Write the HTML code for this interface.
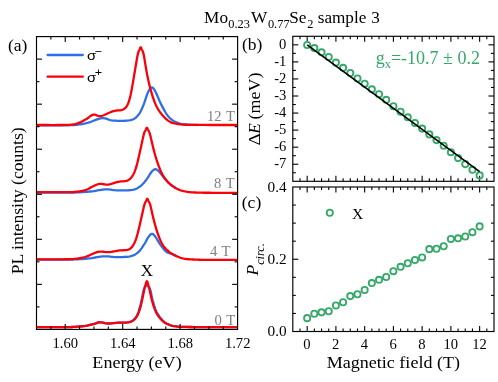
<!DOCTYPE html>
<html><head><meta charset="utf-8"><title>fig</title>
<style>
html,body{margin:0;padding:0;background:#fff;}
#fig{position:relative;width:498px;height:382px;overflow:hidden;background:#fff;font-family:"Liberation Serif",serif;}
</style></head><body>
<div id="fig">
<svg width="498" height="382" viewBox="0 0 498 382" style="position:absolute;left:0;top:0;will-change:transform;opacity:0.999">
<path d="M36.60,125.30 L38.99,125.30 L42.29,125.32 L46.24,125.33 L50.55,125.34 L54.96,125.35 L59.18,125.35 L62.96,125.33 L66.00,125.30 L68.34,125.25 L70.26,125.20 L71.84,125.15 L73.19,125.08 L74.38,124.99 L75.52,124.88 L76.70,124.75 L78.00,124.60 L79.35,124.43 L80.64,124.25 L81.87,124.06 L83.09,123.84 L84.33,123.59 L85.61,123.31 L86.95,122.98 L88.40,122.60 L89.97,122.11 L91.65,121.49 L93.41,120.79 L95.20,120.07 L97.00,119.38 L98.77,118.79 L100.48,118.34 L102.10,118.10 L103.58,118.10 L104.93,118.30 L106.21,118.66 L107.47,119.10 L108.76,119.57 L110.12,120.02 L111.62,120.38 L113.30,120.60 L115.25,120.71 L117.45,120.79 L119.81,120.83 L122.23,120.82 L124.63,120.75 L126.90,120.61 L128.96,120.40 L130.70,120.10 L132.13,119.72 L133.33,119.27 L134.35,118.75 L135.22,118.16 L136.01,117.50 L136.73,116.76 L137.45,115.97 L138.20,115.10 L138.95,114.16 L139.63,113.16 L140.26,112.09 L140.86,110.94 L141.44,109.73 L142.02,108.46 L142.60,107.11 L143.20,105.70 L143.82,104.13 L144.46,102.36 L145.09,100.47 L145.72,98.54 L146.35,96.65 L146.95,94.88 L147.54,93.30 L148.10,92.00 L148.63,90.94 L149.13,90.02 L149.61,89.24 L150.08,88.61 L150.53,88.12 L150.98,87.78 L151.44,87.57 L151.90,87.50 L152.36,87.59 L152.80,87.84 L153.24,88.23 L153.68,88.77 L154.12,89.43 L154.59,90.19 L155.08,91.06 L155.60,92.00 L156.15,93.08 L156.73,94.33 L157.33,95.71 L157.94,97.18 L158.58,98.71 L159.24,100.24 L159.91,101.75 L160.60,103.20 L161.32,104.64 L162.08,106.13 L162.86,107.64 L163.66,109.14 L164.47,110.60 L165.26,111.99 L166.05,113.26 L166.80,114.40 L167.52,115.39 L168.20,116.26 L168.86,117.04 L169.51,117.73 L170.18,118.37 L170.87,118.96 L171.61,119.53 L172.40,120.10 L173.26,120.66 L174.16,121.19 L175.11,121.68 L176.09,122.14 L177.08,122.57 L178.07,122.95 L179.05,123.30 L180.00,123.60 L180.91,123.85 L181.79,124.04 L182.65,124.18 L183.51,124.29 L184.40,124.38 L185.33,124.45 L186.32,124.52 L187.40,124.60 L188.64,124.68 L190.07,124.75 L191.61,124.81 L193.16,124.86 L194.66,124.91 L196.02,124.94 L197.16,124.97 L198.00,125.00" fill="none" stroke="#2f6fe4" stroke-width="2.3" stroke-linejoin="round" stroke-linecap="butt"/>
<path d="M36.60,125.00 L38.48,125.00 L41.07,125.01 L44.16,125.02 L47.55,125.02 L51.03,125.03 L54.40,125.03 L57.46,125.02 L60.00,125.00 L62.09,124.98 L63.94,124.95 L65.60,124.92 L67.09,124.89 L68.44,124.84 L69.69,124.78 L70.87,124.70 L72.00,124.60 L73.02,124.49 L73.88,124.38 L74.60,124.26 L75.25,124.12 L75.87,123.95 L76.50,123.75 L77.20,123.50 L78.00,123.20 L78.91,122.84 L79.87,122.42 L80.88,121.96 L81.91,121.46 L82.96,120.93 L84.00,120.39 L85.02,119.84 L86.00,119.30 L86.95,118.71 L87.89,118.04 L88.81,117.32 L89.73,116.61 L90.64,115.94 L91.56,115.36 L92.47,114.90 L93.40,114.60 L94.30,114.54 L95.15,114.69 L95.99,114.99 L96.84,115.37 L97.72,115.74 L98.68,116.04 L99.73,116.18 L100.90,116.10 L102.24,115.76 L103.74,115.22 L105.35,114.53 L107.03,113.77 L108.71,112.98 L110.35,112.24 L111.89,111.59 L113.30,111.10 L114.59,110.79 L115.82,110.60 L117.00,110.50 L118.11,110.45 L119.17,110.40 L120.17,110.32 L121.11,110.17 L122.00,109.90 L122.81,109.57 L123.54,109.23 L124.20,108.85 L124.81,108.43 L125.38,107.92 L125.93,107.31 L126.46,106.58 L127.00,105.70 L127.52,104.70 L128.01,103.63 L128.48,102.45 L128.93,101.16 L129.36,99.74 L129.80,98.17 L130.24,96.43 L130.70,94.50 L131.17,92.31 L131.66,89.84 L132.14,87.17 L132.63,84.36 L133.11,81.50 L133.59,78.65 L134.05,75.89 L134.50,73.30 L134.94,70.76 L135.37,68.16 L135.80,65.55 L136.22,63.01 L136.62,60.59 L137.01,58.35 L137.37,56.37 L137.70,54.70 L138.01,53.38 L138.29,52.36 L138.54,51.60 L138.78,51.02 L139.00,50.57 L139.21,50.19 L139.41,49.82 L139.60,49.40 L139.78,48.96 L139.93,48.55 L140.07,48.19 L140.20,47.89 L140.32,47.64 L140.44,47.45 L140.57,47.34 L140.70,47.30 L140.83,47.34 L140.96,47.45 L141.08,47.64 L141.20,47.89 L141.33,48.19 L141.47,48.55 L141.62,48.96 L141.80,49.40 L141.99,49.82 L142.19,50.19 L142.40,50.57 L142.62,51.02 L142.86,51.60 L143.11,52.36 L143.39,53.38 L143.70,54.70 L144.03,56.40 L144.40,58.47 L144.78,60.81 L145.19,63.32 L145.61,65.92 L146.03,68.51 L146.47,71.00 L146.90,73.30 L147.33,75.45 L147.76,77.55 L148.19,79.61 L148.64,81.63 L149.10,83.63 L149.57,85.60 L150.07,87.55 L150.60,89.50 L151.15,91.46 L151.73,93.43 L152.33,95.40 L152.94,97.34 L153.58,99.23 L154.24,101.05 L154.91,102.78 L155.60,104.40 L156.30,105.90 L157.02,107.31 L157.75,108.62 L158.50,109.87 L159.28,111.06 L160.08,112.20 L160.92,113.31 L161.80,114.40 L162.72,115.48 L163.67,116.55 L164.65,117.58 L165.66,118.57 L166.71,119.50 L167.78,120.36 L168.88,121.13 L170.00,121.80 L171.13,122.36 L172.26,122.81 L173.40,123.18 L174.57,123.47 L175.80,123.72 L177.11,123.92 L178.50,124.11 L180.00,124.30 L181.45,124.47 L182.75,124.60 L184.05,124.69 L185.46,124.75 L187.13,124.80 L189.19,124.83 L191.77,124.86 L195.00,124.90 L199.30,124.94 L204.71,124.96 L210.83,124.98 L217.24,124.99 L223.53,124.99 L229.30,124.99 L234.12,125.00 L237.60,125.00" fill="none" stroke="#fa0008" stroke-width="2.3" stroke-linejoin="round" stroke-linecap="butt"/>
<path d="M36.60,192.50 L38.44,192.50 L40.93,192.50 L43.90,192.50 L47.18,192.51 L50.59,192.51 L53.98,192.51 L57.17,192.50 L60.00,192.50 L62.54,192.50 L64.97,192.51 L67.32,192.51 L69.59,192.52 L71.78,192.52 L73.91,192.50 L75.98,192.46 L78.00,192.40 L79.94,192.32 L81.78,192.22 L83.54,192.10 L85.24,191.97 L86.92,191.82 L88.59,191.66 L90.27,191.49 L92.00,191.30 L93.79,191.07 L95.61,190.79 L97.46,190.48 L99.29,190.17 L101.10,189.87 L102.85,189.61 L104.53,189.41 L106.10,189.30 L107.51,189.29 L108.77,189.37 L109.92,189.52 L111.03,189.70 L112.16,189.90 L113.35,190.08 L114.68,190.22 L116.20,190.30 L117.97,190.34 L119.97,190.38 L122.12,190.40 L124.32,190.39 L126.52,190.35 L128.62,190.26 L130.54,190.12 L132.20,189.90 L133.60,189.61 L134.83,189.27 L135.91,188.87 L136.88,188.43 L137.76,187.93 L138.61,187.39 L139.44,186.81 L140.30,186.20 L141.16,185.54 L141.97,184.82 L142.75,184.05 L143.49,183.24 L144.22,182.41 L144.92,181.55 L145.61,180.68 L146.30,179.80 L146.98,178.88 L147.64,177.88 L148.29,176.84 L148.93,175.79 L149.54,174.77 L150.14,173.80 L150.73,172.94 L151.30,172.20 L151.85,171.57 L152.37,171.00 L152.87,170.49 L153.36,170.06 L153.84,169.71 L154.32,169.45 L154.81,169.28 L155.30,169.20 L155.79,169.23 L156.27,169.37 L156.75,169.60 L157.23,169.91 L157.72,170.30 L158.22,170.75 L158.75,171.25 L159.30,171.80 L159.88,172.42 L160.48,173.14 L161.09,173.93 L161.73,174.78 L162.37,175.65 L163.04,176.53 L163.71,177.39 L164.40,178.20 L165.11,178.99 L165.85,179.80 L166.60,180.61 L167.37,181.41 L168.14,182.19 L168.91,182.94 L169.66,183.64 L170.40,184.30 L171.16,184.92 L171.96,185.52 L172.78,186.10 L173.58,186.63 L174.33,187.12 L175.00,187.55 L175.57,187.91 L176.00,188.20" fill="none" stroke="#2f6fe4" stroke-width="2.3" stroke-linejoin="round" stroke-linecap="butt"/>
<path d="M36.60,192.10 L38.48,192.11 L41.07,192.12 L44.16,192.14 L47.55,192.16 L51.03,192.17 L54.40,192.19 L57.46,192.20 L60.00,192.20 L62.08,192.20 L63.92,192.20 L65.55,192.20 L67.03,192.20 L68.37,192.19 L69.62,192.17 L70.82,192.14 L72.00,192.10 L73.11,192.05 L74.10,191.99 L74.99,191.92 L75.81,191.84 L76.59,191.75 L77.37,191.65 L78.16,191.53 L79.00,191.40 L79.87,191.27 L80.72,191.14 L81.58,191.01 L82.43,190.86 L83.29,190.69 L84.17,190.48 L85.07,190.22 L86.00,189.90 L86.97,189.50 L88.00,189.01 L89.05,188.46 L90.11,187.88 L91.17,187.30 L92.20,186.74 L93.18,186.23 L94.10,185.80 L94.94,185.43 L95.70,185.09 L96.42,184.77 L97.11,184.49 L97.80,184.25 L98.51,184.05 L99.27,183.90 L100.10,183.80 L100.99,183.79 L101.91,183.89 L102.86,184.05 L103.84,184.25 L104.86,184.44 L105.91,184.59 L106.99,184.65 L108.10,184.60 L109.27,184.41 L110.50,184.12 L111.78,183.74 L113.09,183.32 L114.40,182.89 L115.70,182.47 L116.98,182.10 L118.20,181.80 L119.40,181.60 L120.62,181.46 L121.83,181.37 L123.02,181.30 L124.17,181.21 L125.26,181.09 L126.27,180.89 L127.20,180.60 L128.02,180.23 L128.75,179.83 L129.41,179.39 L130.01,178.89 L130.57,178.33 L131.11,177.70 L131.65,176.99 L132.20,176.20 L132.75,175.35 L133.27,174.46 L133.77,173.52 L134.26,172.49 L134.74,171.37 L135.22,170.13 L135.70,168.74 L136.20,167.20 L136.71,165.44 L137.23,163.47 L137.75,161.34 L138.28,159.09 L138.79,156.80 L139.31,154.49 L139.81,152.25 L140.30,150.10 L140.79,147.96 L141.28,145.73 L141.76,143.47 L142.24,141.24 L142.70,139.12 L143.13,137.16 L143.53,135.44 L143.90,134.00 L144.22,132.89 L144.51,132.06 L144.77,131.46 L145.01,131.02 L145.22,130.70 L145.42,130.42 L145.61,130.14 L145.80,129.80 L145.98,129.41 L146.13,129.03 L146.27,128.67 L146.40,128.36 L146.52,128.09 L146.64,127.88 L146.77,127.75 L146.90,127.70 L147.03,127.75 L147.16,127.88 L147.28,128.09 L147.40,128.36 L147.53,128.67 L147.67,129.03 L147.82,129.41 L148.00,129.80 L148.19,130.16 L148.38,130.47 L148.59,130.79 L148.81,131.15 L149.04,131.61 L149.30,132.20 L149.59,132.99 L149.90,134.00 L150.25,135.29 L150.63,136.83 L151.04,138.57 L151.47,140.44 L151.92,142.38 L152.37,144.35 L152.84,146.27 L153.30,148.10 L153.76,149.87 L154.23,151.65 L154.71,153.44 L155.20,155.22 L155.70,156.99 L156.22,158.74 L156.75,160.44 L157.30,162.10 L157.87,163.73 L158.45,165.35 L159.05,166.94 L159.67,168.50 L160.30,170.02 L160.95,171.48 L161.62,172.88 L162.30,174.20 L163.00,175.45 L163.71,176.63 L164.44,177.74 L165.19,178.81 L165.95,179.82 L166.74,180.78 L167.56,181.71 L168.40,182.60 L169.28,183.45 L170.19,184.26 L171.12,185.02 L172.08,185.74 L173.05,186.41 L174.04,187.05 L175.02,187.64 L176.00,188.20 L176.96,188.71 L177.90,189.17 L178.84,189.59 L179.79,189.97 L180.76,190.31 L181.78,190.63 L182.85,190.92 L184.00,191.20 L185.17,191.45 L186.33,191.67 L187.51,191.86 L188.75,192.02 L190.08,192.16 L191.55,192.29 L193.17,192.40 L195.00,192.50 L197.05,192.59 L199.31,192.65 L201.73,192.70 L204.28,192.73 L206.91,192.75 L209.61,192.77 L212.31,192.78 L215.00,192.80 L217.86,192.81 L221.00,192.82 L224.28,192.82 L227.55,192.82 L230.67,192.81 L233.48,192.81 L235.84,192.80 L237.60,192.80" fill="none" stroke="#fa0008" stroke-width="2.3" stroke-linejoin="round" stroke-linecap="butt"/>
<path d="M36.60,259.60 L38.44,259.60 L40.93,259.61 L43.90,259.61 L47.18,259.62 L50.59,259.62 L53.98,259.62 L57.17,259.61 L60.00,259.60 L62.55,259.58 L65.02,259.56 L67.41,259.54 L69.71,259.51 L71.93,259.48 L74.05,259.43 L76.07,259.37 L78.00,259.30 L79.77,259.22 L81.37,259.12 L82.85,259.02 L84.24,258.91 L85.61,258.78 L86.99,258.64 L88.44,258.48 L90.00,258.30 L91.68,258.08 L93.42,257.80 L95.22,257.50 L97.04,257.19 L98.87,256.89 L100.67,256.63 L102.42,256.42 L104.10,256.30 L105.70,256.28 L107.22,256.34 L108.70,256.47 L110.16,256.63 L111.61,256.79 L113.09,256.95 L114.61,257.06 L116.20,257.10 L117.90,257.10 L119.71,257.09 L121.57,257.06 L123.46,257.01 L125.31,256.91 L127.08,256.77 L128.72,256.57 L130.20,256.30 L131.50,255.97 L132.67,255.60 L133.72,255.18 L134.69,254.70 L135.60,254.17 L136.47,253.58 L137.33,252.92 L138.20,252.20 L139.07,251.38 L139.91,250.45 L140.72,249.44 L141.50,248.38 L142.25,247.30 L142.97,246.22 L143.65,245.18 L144.30,244.20 L144.90,243.25 L145.46,242.30 L145.97,241.34 L146.46,240.41 L146.92,239.52 L147.38,238.67 L147.83,237.90 L148.30,237.20 L148.77,236.56 L149.23,235.95 L149.69,235.39 L150.14,234.89 L150.58,234.46 L151.02,234.13 L151.46,233.90 L151.90,233.80 L152.32,233.82 L152.73,233.94 L153.12,234.17 L153.51,234.49 L153.92,234.90 L154.34,235.39 L154.80,235.96 L155.30,236.60 L155.84,237.36 L156.41,238.25 L157.01,239.25 L157.63,240.32 L158.27,241.43 L158.94,242.53 L159.61,243.60 L160.30,244.60 L161.01,245.57 L161.76,246.57 L162.53,247.58 L163.31,248.56 L164.10,249.50 L164.88,250.37 L165.65,251.14 L166.40,251.80 L167.13,252.32 L167.87,252.71 L168.61,253.00 L169.33,253.23 L170.04,253.42 L170.72,253.59 L171.38,253.77 L172.00,254.00 L172.60,254.26 L173.21,254.54 L173.79,254.82 L174.35,255.09 L174.86,255.34 L175.32,255.57 L175.70,255.76 L176.00,255.90" fill="none" stroke="#2f6fe4" stroke-width="2.3" stroke-linejoin="round" stroke-linecap="butt"/>
<path d="M36.60,259.30 L38.48,259.30 L41.07,259.30 L44.16,259.31 L47.55,259.31 L51.03,259.31 L54.40,259.31 L57.46,259.31 L60.00,259.30 L62.08,259.29 L63.92,259.28 L65.55,259.27 L67.03,259.25 L68.37,259.23 L69.62,259.20 L70.82,259.16 L72.00,259.10 L73.11,259.03 L74.10,258.96 L74.99,258.88 L75.81,258.79 L76.59,258.68 L77.37,258.57 L78.16,258.44 L79.00,258.30 L79.87,258.15 L80.72,258.00 L81.58,257.84 L82.43,257.67 L83.29,257.47 L84.17,257.25 L85.07,257.00 L86.00,256.70 L86.97,256.34 L88.00,255.91 L89.05,255.44 L90.11,254.95 L91.17,254.46 L92.20,253.99 L93.18,253.56 L94.10,253.20 L94.93,252.89 L95.68,252.61 L96.37,252.36 L97.04,252.14 L97.72,251.96 L98.44,251.80 L99.22,251.68 L100.10,251.60 L101.08,251.58 L102.14,251.65 L103.25,251.76 L104.41,251.90 L105.59,252.04 L106.77,252.15 L107.95,252.22 L109.10,252.20 L110.23,252.10 L111.35,251.94 L112.47,251.73 L113.59,251.50 L114.72,251.25 L115.86,251.01 L117.02,250.79 L118.20,250.60 L119.44,250.47 L120.75,250.39 L122.10,250.33 L123.46,250.27 L124.78,250.20 L126.03,250.07 L127.18,249.88 L128.20,249.60 L129.07,249.25 L129.82,248.87 L130.49,248.45 L131.07,247.96 L131.62,247.41 L132.14,246.77 L132.66,246.04 L133.20,245.20 L133.75,244.27 L134.27,243.26 L134.77,242.17 L135.26,240.99 L135.74,239.72 L136.22,238.33 L136.70,236.83 L137.20,235.20 L137.72,233.37 L138.24,231.33 L138.78,229.13 L139.31,226.84 L139.84,224.52 L140.35,222.25 L140.84,220.09 L141.30,218.10 L141.74,216.22 L142.15,214.36 L142.55,212.54 L142.94,210.80 L143.30,209.16 L143.65,207.64 L143.99,206.28 L144.30,205.10 L144.60,204.13 L144.87,203.36 L145.13,202.75 L145.37,202.27 L145.59,201.87 L145.81,201.52 L146.01,201.17 L146.20,200.80 L146.38,200.40 L146.53,200.02 L146.67,199.67 L146.80,199.35 L146.92,199.08 L147.04,198.88 L147.17,198.75 L147.30,198.70 L147.43,198.75 L147.56,198.88 L147.68,199.08 L147.80,199.35 L147.93,199.67 L148.07,200.02 L148.22,200.40 L148.40,200.80 L148.59,201.17 L148.79,201.52 L149.01,201.87 L149.23,202.27 L149.47,202.75 L149.73,203.36 L150.00,204.13 L150.30,205.10 L150.62,206.30 L150.95,207.71 L151.30,209.29 L151.67,210.99 L152.05,212.76 L152.45,214.57 L152.87,216.36 L153.30,218.10 L153.75,219.82 L154.21,221.60 L154.68,223.40 L155.18,225.21 L155.68,227.02 L156.21,228.80 L156.75,230.53 L157.30,232.20 L157.87,233.83 L158.45,235.46 L159.05,237.07 L159.67,238.64 L160.30,240.16 L160.95,241.60 L161.62,242.95 L162.30,244.20 L163.00,245.33 L163.71,246.36 L164.44,247.29 L165.19,248.16 L165.95,248.96 L166.74,249.73 L167.56,250.47 L168.40,251.20 L169.28,251.91 L170.19,252.58 L171.12,253.22 L172.08,253.82 L173.05,254.39 L174.04,254.92 L175.02,255.42 L176.00,255.90 L176.96,256.34 L177.90,256.76 L178.84,257.13 L179.79,257.48 L180.76,257.80 L181.78,258.09 L182.85,258.36 L184.00,258.60 L185.17,258.81 L186.33,258.99 L187.51,259.13 L188.75,259.25 L190.08,259.35 L191.55,259.44 L193.17,259.52 L195.00,259.60 L197.05,259.67 L199.31,259.73 L201.73,259.78 L204.28,259.81 L206.91,259.84 L209.61,259.86 L212.31,259.88 L215.00,259.90 L217.86,259.91 L221.00,259.92 L224.28,259.92 L227.55,259.92 L230.67,259.91 L233.48,259.91 L235.84,259.90 L237.60,259.90" fill="none" stroke="#fa0008" stroke-width="2.3" stroke-linejoin="round" stroke-linecap="butt"/>
<path d="M36.60,327.20 L38.48,327.20 L41.07,327.20 L44.16,327.21 L47.55,327.21 L51.03,327.21 L54.40,327.21 L57.46,327.21 L60.00,327.20 L62.08,327.19 L63.92,327.17 L65.55,327.15 L67.03,327.13 L68.37,327.11 L69.62,327.08 L70.82,327.04 L72.00,327.00 L73.11,326.95 L74.10,326.90 L74.99,326.84 L75.81,326.78 L76.59,326.72 L77.37,326.65 L78.16,326.57 L79.00,326.50 L79.87,326.43 L80.72,326.37 L81.58,326.31 L82.43,326.24 L83.29,326.17 L84.17,326.07 L85.07,325.95 L86.00,325.80 L86.97,325.61 L88.00,325.38 L89.05,325.12 L90.11,324.85 L91.17,324.57 L92.20,324.30 L93.18,324.03 L94.10,323.80 L94.94,323.57 L95.70,323.33 L96.42,323.08 L97.11,322.85 L97.80,322.64 L98.51,322.47 L99.27,322.35 L100.10,322.30 L100.99,322.33 L101.91,322.46 L102.86,322.64 L103.84,322.86 L104.86,323.08 L105.91,323.28 L106.99,323.43 L108.10,323.50 L109.26,323.49 L110.48,323.43 L111.74,323.33 L113.02,323.20 L114.33,323.06 L115.63,322.92 L116.93,322.79 L118.20,322.70 L119.49,322.65 L120.81,322.62 L122.16,322.62 L123.49,322.61 L124.78,322.59 L126.02,322.55 L127.17,322.45 L128.20,322.30 L129.11,322.10 L129.93,321.88 L130.66,321.64 L131.32,321.35 L131.95,321.02 L132.54,320.64 L133.12,320.20 L133.70,319.70 L134.28,319.14 L134.83,318.53 L135.35,317.87 L135.85,317.16 L136.33,316.39 L136.80,315.56 L137.25,314.66 L137.70,313.70 L138.13,312.67 L138.54,311.58 L138.93,310.42 L139.31,309.21 L139.68,307.93 L140.05,306.58 L140.42,305.17 L140.80,303.70 L141.19,302.06 L141.58,300.22 L141.97,298.26 L142.36,296.26 L142.75,294.31 L143.12,292.49 L143.47,290.89 L143.80,289.60 L144.11,288.63 L144.41,287.91 L144.70,287.39 L144.98,287.02 L145.23,286.74 L145.47,286.49 L145.70,286.23 L145.90,285.90 L146.08,285.50 L146.23,285.10 L146.36,284.69 L146.47,284.32 L146.57,283.99 L146.68,283.73 L146.78,283.56 L146.90,283.50 L147.02,283.56 L147.12,283.73 L147.22,283.99 L147.32,284.32 L147.43,284.69 L147.56,285.10 L147.71,285.50 L147.90,285.90 L148.12,286.24 L148.37,286.54 L148.65,286.82 L148.94,287.14 L149.24,287.54 L149.56,288.05 L149.88,288.73 L150.20,289.60 L150.52,290.72 L150.84,292.06 L151.16,293.57 L151.49,295.19 L151.84,296.87 L152.20,298.56 L152.59,300.18 L153.00,301.70 L153.43,303.15 L153.87,304.60 L154.32,306.04 L154.80,307.46 L155.30,308.84 L155.83,310.19 L156.40,311.48 L157.00,312.70 L157.66,313.87 L158.37,315.01 L159.13,316.11 L159.91,317.16 L160.71,318.15 L161.50,319.07 L162.27,319.93 L163.00,320.70 L163.69,321.38 L164.34,321.97 L164.97,322.48 L165.60,322.92 L166.24,323.33 L166.91,323.70 L167.62,324.05 L168.40,324.40 L169.20,324.74 L170.00,325.05 L170.81,325.34 L171.66,325.59 L172.58,325.83 L173.60,326.04 L174.73,326.23 L176.00,326.40 L177.21,326.55 L178.26,326.66 L179.30,326.75 L180.50,326.82 L182.01,326.87 L183.99,326.92 L186.60,326.96 L190.00,327.00 L194.67,327.04 L200.65,327.06 L207.48,327.08 L214.68,327.09 L221.76,327.09 L228.26,327.09 L233.70,327.10 L237.60,327.10" fill="none" stroke="#2f6fe4" stroke-width="2.3" stroke-linejoin="round" stroke-linecap="butt"/>
<path d="M36.60,327.20 L38.48,327.20 L41.07,327.20 L44.16,327.21 L47.55,327.21 L51.03,327.21 L54.40,327.21 L57.46,327.21 L60.00,327.20 L62.08,327.19 L63.92,327.17 L65.55,327.15 L67.03,327.13 L68.37,327.11 L69.62,327.08 L70.82,327.04 L72.00,327.00 L73.11,326.95 L74.10,326.90 L74.99,326.84 L75.81,326.78 L76.59,326.72 L77.37,326.65 L78.16,326.57 L79.00,326.50 L79.87,326.43 L80.72,326.37 L81.58,326.31 L82.43,326.24 L83.29,326.17 L84.17,326.07 L85.07,325.95 L86.00,325.80 L86.97,325.61 L88.00,325.38 L89.05,325.12 L90.11,324.85 L91.17,324.57 L92.20,324.30 L93.18,324.03 L94.10,323.80 L94.94,323.57 L95.70,323.33 L96.42,323.08 L97.11,322.85 L97.80,322.64 L98.51,322.47 L99.27,322.35 L100.10,322.30 L100.99,322.33 L101.91,322.46 L102.86,322.64 L103.84,322.86 L104.86,323.08 L105.91,323.28 L106.99,323.43 L108.10,323.50 L109.26,323.49 L110.48,323.43 L111.74,323.33 L113.02,323.20 L114.33,323.06 L115.63,322.92 L116.93,322.79 L118.20,322.70 L119.48,322.65 L120.80,322.62 L122.13,322.62 L123.46,322.61 L124.75,322.59 L125.98,322.55 L127.14,322.45 L128.20,322.30 L129.16,322.10 L130.03,321.88 L130.83,321.64 L131.57,321.35 L132.27,321.02 L132.93,320.64 L133.57,320.20 L134.20,319.70 L134.80,319.14 L135.36,318.53 L135.89,317.87 L136.38,317.16 L136.85,316.39 L137.31,315.56 L137.76,314.66 L138.20,313.70 L138.63,312.67 L139.04,311.58 L139.43,310.42 L139.81,309.21 L140.18,307.93 L140.55,306.58 L140.92,305.17 L141.30,303.70 L141.69,302.08 L142.09,300.27 L142.49,298.36 L142.89,296.40 L143.28,294.47 L143.65,292.65 L143.99,291.00 L144.30,289.60 L144.57,288.44 L144.81,287.45 L145.03,286.60 L145.23,285.87 L145.41,285.23 L145.58,284.66 L145.74,284.12 L145.90,283.60 L146.05,283.09 L146.19,282.63 L146.32,282.23 L146.44,281.87 L146.55,281.59 L146.66,281.38 L146.78,281.25 L146.90,281.20 L147.02,281.25 L147.14,281.38 L147.25,281.59 L147.36,281.87 L147.48,282.23 L147.61,282.63 L147.75,283.09 L147.90,283.60 L148.06,284.14 L148.23,284.70 L148.40,285.32 L148.59,285.99 L148.79,286.75 L149.00,287.59 L149.24,288.53 L149.50,289.60 L149.78,290.83 L150.09,292.22 L150.41,293.74 L150.75,295.34 L151.11,296.98 L151.49,298.61 L151.88,300.20 L152.30,301.70 L152.73,303.15 L153.17,304.60 L153.62,306.04 L154.10,307.46 L154.60,308.84 L155.13,310.19 L155.70,311.48 L156.30,312.70 L156.95,313.87 L157.66,315.01 L158.40,316.11 L159.17,317.16 L159.95,318.15 L160.75,319.07 L161.53,319.93 L162.30,320.70 L163.05,321.38 L163.78,321.97 L164.51,322.48 L165.25,322.92 L166.00,323.33 L166.77,323.70 L167.57,324.05 L168.40,324.40 L169.23,324.74 L170.04,325.05 L170.86,325.34 L171.71,325.59 L172.62,325.83 L173.61,326.04 L174.73,326.23 L176.00,326.40 L177.21,326.55 L178.26,326.66 L179.30,326.75 L180.50,326.82 L182.01,326.87 L183.99,326.92 L186.60,326.96 L190.00,327.00 L194.67,327.04 L200.65,327.06 L207.48,327.08 L214.68,327.09 L221.76,327.09 L228.26,327.09 L233.70,327.10 L237.60,327.10" fill="none" stroke="#fa0008" stroke-width="2.3" stroke-linejoin="round" stroke-linecap="butt"/>
<line x1="50.86" y1="329.40" x2="50.86" y2="326.40" stroke="#000" stroke-width="1.1"/>
<line x1="50.86" y1="36.60" x2="50.86" y2="39.60" stroke="#000" stroke-width="1.1"/>
<line x1="65.23" y1="329.40" x2="65.23" y2="323.90" stroke="#000" stroke-width="1.1"/>
<line x1="65.23" y1="36.60" x2="65.23" y2="42.10" stroke="#000" stroke-width="1.1"/>
<line x1="79.59" y1="329.40" x2="79.59" y2="326.40" stroke="#000" stroke-width="1.1"/>
<line x1="79.59" y1="36.60" x2="79.59" y2="39.60" stroke="#000" stroke-width="1.1"/>
<line x1="93.96" y1="329.40" x2="93.96" y2="326.40" stroke="#000" stroke-width="1.1"/>
<line x1="93.96" y1="36.60" x2="93.96" y2="39.60" stroke="#000" stroke-width="1.1"/>
<line x1="108.32" y1="329.40" x2="108.32" y2="326.40" stroke="#000" stroke-width="1.1"/>
<line x1="108.32" y1="36.60" x2="108.32" y2="39.60" stroke="#000" stroke-width="1.1"/>
<line x1="122.69" y1="329.40" x2="122.69" y2="323.90" stroke="#000" stroke-width="1.1"/>
<line x1="122.69" y1="36.60" x2="122.69" y2="42.10" stroke="#000" stroke-width="1.1"/>
<line x1="137.05" y1="329.40" x2="137.05" y2="326.40" stroke="#000" stroke-width="1.1"/>
<line x1="137.05" y1="36.60" x2="137.05" y2="39.60" stroke="#000" stroke-width="1.1"/>
<line x1="151.41" y1="329.40" x2="151.41" y2="326.40" stroke="#000" stroke-width="1.1"/>
<line x1="151.41" y1="36.60" x2="151.41" y2="39.60" stroke="#000" stroke-width="1.1"/>
<line x1="165.78" y1="329.40" x2="165.78" y2="326.40" stroke="#000" stroke-width="1.1"/>
<line x1="165.78" y1="36.60" x2="165.78" y2="39.60" stroke="#000" stroke-width="1.1"/>
<line x1="180.14" y1="329.40" x2="180.14" y2="323.90" stroke="#000" stroke-width="1.1"/>
<line x1="180.14" y1="36.60" x2="180.14" y2="42.10" stroke="#000" stroke-width="1.1"/>
<line x1="194.51" y1="329.40" x2="194.51" y2="326.40" stroke="#000" stroke-width="1.1"/>
<line x1="194.51" y1="36.60" x2="194.51" y2="39.60" stroke="#000" stroke-width="1.1"/>
<line x1="208.87" y1="329.40" x2="208.87" y2="326.40" stroke="#000" stroke-width="1.1"/>
<line x1="208.87" y1="36.60" x2="208.87" y2="39.60" stroke="#000" stroke-width="1.1"/>
<line x1="223.24" y1="329.40" x2="223.24" y2="326.40" stroke="#000" stroke-width="1.1"/>
<line x1="223.24" y1="36.60" x2="223.24" y2="39.60" stroke="#000" stroke-width="1.1"/>
<line x1="36.50" y1="59.12" x2="42.00" y2="59.12" stroke="#000" stroke-width="1.1"/>
<line x1="237.60" y1="59.12" x2="232.10" y2="59.12" stroke="#000" stroke-width="1.1"/>
<line x1="36.50" y1="81.65" x2="39.50" y2="81.65" stroke="#000" stroke-width="1.1"/>
<line x1="237.60" y1="81.65" x2="234.60" y2="81.65" stroke="#000" stroke-width="1.1"/>
<line x1="36.50" y1="104.17" x2="42.00" y2="104.17" stroke="#000" stroke-width="1.1"/>
<line x1="237.60" y1="104.17" x2="232.10" y2="104.17" stroke="#000" stroke-width="1.1"/>
<line x1="36.50" y1="126.69" x2="39.50" y2="126.69" stroke="#000" stroke-width="1.1"/>
<line x1="237.60" y1="126.69" x2="234.60" y2="126.69" stroke="#000" stroke-width="1.1"/>
<line x1="36.50" y1="149.22" x2="42.00" y2="149.22" stroke="#000" stroke-width="1.1"/>
<line x1="237.60" y1="149.22" x2="232.10" y2="149.22" stroke="#000" stroke-width="1.1"/>
<line x1="36.50" y1="171.74" x2="39.50" y2="171.74" stroke="#000" stroke-width="1.1"/>
<line x1="237.60" y1="171.74" x2="234.60" y2="171.74" stroke="#000" stroke-width="1.1"/>
<line x1="36.50" y1="194.26" x2="42.00" y2="194.26" stroke="#000" stroke-width="1.1"/>
<line x1="237.60" y1="194.26" x2="232.10" y2="194.26" stroke="#000" stroke-width="1.1"/>
<line x1="36.50" y1="216.78" x2="39.50" y2="216.78" stroke="#000" stroke-width="1.1"/>
<line x1="237.60" y1="216.78" x2="234.60" y2="216.78" stroke="#000" stroke-width="1.1"/>
<line x1="36.50" y1="239.31" x2="42.00" y2="239.31" stroke="#000" stroke-width="1.1"/>
<line x1="237.60" y1="239.31" x2="232.10" y2="239.31" stroke="#000" stroke-width="1.1"/>
<line x1="36.50" y1="261.83" x2="39.50" y2="261.83" stroke="#000" stroke-width="1.1"/>
<line x1="237.60" y1="261.83" x2="234.60" y2="261.83" stroke="#000" stroke-width="1.1"/>
<line x1="36.50" y1="284.35" x2="42.00" y2="284.35" stroke="#000" stroke-width="1.1"/>
<line x1="237.60" y1="284.35" x2="232.10" y2="284.35" stroke="#000" stroke-width="1.1"/>
<line x1="36.50" y1="306.88" x2="39.50" y2="306.88" stroke="#000" stroke-width="1.1"/>
<line x1="237.60" y1="306.88" x2="234.60" y2="306.88" stroke="#000" stroke-width="1.1"/>
<rect x="36.50" y="36.60" width="201.10" height="292.80" fill="none" stroke="#000" stroke-width="1.15"/>
<line x1="47.6" y1="55" x2="82.8" y2="55" stroke="#2f6fe4" stroke-width="2.3" stroke-linecap="round"/>
<line x1="47.6" y1="76.7" x2="82.8" y2="76.7" stroke="#fa0008" stroke-width="2.3" stroke-linecap="round"/>
<line x1="299.99" y1="181.30" x2="299.99" y2="178.30" stroke="#000" stroke-width="1.1"/>
<line x1="299.99" y1="36.30" x2="299.99" y2="39.30" stroke="#000" stroke-width="1.1"/>
<line x1="307.17" y1="181.30" x2="307.17" y2="175.80" stroke="#000" stroke-width="1.1"/>
<line x1="307.17" y1="36.30" x2="307.17" y2="41.80" stroke="#000" stroke-width="1.1"/>
<line x1="314.36" y1="181.30" x2="314.36" y2="178.30" stroke="#000" stroke-width="1.1"/>
<line x1="314.36" y1="36.30" x2="314.36" y2="39.30" stroke="#000" stroke-width="1.1"/>
<line x1="321.54" y1="181.30" x2="321.54" y2="178.30" stroke="#000" stroke-width="1.1"/>
<line x1="321.54" y1="36.30" x2="321.54" y2="39.30" stroke="#000" stroke-width="1.1"/>
<line x1="328.73" y1="181.30" x2="328.73" y2="178.30" stroke="#000" stroke-width="1.1"/>
<line x1="328.73" y1="36.30" x2="328.73" y2="39.30" stroke="#000" stroke-width="1.1"/>
<line x1="335.91" y1="181.30" x2="335.91" y2="175.80" stroke="#000" stroke-width="1.1"/>
<line x1="335.91" y1="36.30" x2="335.91" y2="41.80" stroke="#000" stroke-width="1.1"/>
<line x1="343.10" y1="181.30" x2="343.10" y2="178.30" stroke="#000" stroke-width="1.1"/>
<line x1="343.10" y1="36.30" x2="343.10" y2="39.30" stroke="#000" stroke-width="1.1"/>
<line x1="350.29" y1="181.30" x2="350.29" y2="178.30" stroke="#000" stroke-width="1.1"/>
<line x1="350.29" y1="36.30" x2="350.29" y2="39.30" stroke="#000" stroke-width="1.1"/>
<line x1="357.47" y1="181.30" x2="357.47" y2="178.30" stroke="#000" stroke-width="1.1"/>
<line x1="357.47" y1="36.30" x2="357.47" y2="39.30" stroke="#000" stroke-width="1.1"/>
<line x1="364.66" y1="181.30" x2="364.66" y2="175.80" stroke="#000" stroke-width="1.1"/>
<line x1="364.66" y1="36.30" x2="364.66" y2="41.80" stroke="#000" stroke-width="1.1"/>
<line x1="371.84" y1="181.30" x2="371.84" y2="178.30" stroke="#000" stroke-width="1.1"/>
<line x1="371.84" y1="36.30" x2="371.84" y2="39.30" stroke="#000" stroke-width="1.1"/>
<line x1="379.03" y1="181.30" x2="379.03" y2="178.30" stroke="#000" stroke-width="1.1"/>
<line x1="379.03" y1="36.30" x2="379.03" y2="39.30" stroke="#000" stroke-width="1.1"/>
<line x1="386.21" y1="181.30" x2="386.21" y2="178.30" stroke="#000" stroke-width="1.1"/>
<line x1="386.21" y1="36.30" x2="386.21" y2="39.30" stroke="#000" stroke-width="1.1"/>
<line x1="393.40" y1="181.30" x2="393.40" y2="175.80" stroke="#000" stroke-width="1.1"/>
<line x1="393.40" y1="36.30" x2="393.40" y2="41.80" stroke="#000" stroke-width="1.1"/>
<line x1="400.59" y1="181.30" x2="400.59" y2="178.30" stroke="#000" stroke-width="1.1"/>
<line x1="400.59" y1="36.30" x2="400.59" y2="39.30" stroke="#000" stroke-width="1.1"/>
<line x1="407.77" y1="181.30" x2="407.77" y2="178.30" stroke="#000" stroke-width="1.1"/>
<line x1="407.77" y1="36.30" x2="407.77" y2="39.30" stroke="#000" stroke-width="1.1"/>
<line x1="414.96" y1="181.30" x2="414.96" y2="178.30" stroke="#000" stroke-width="1.1"/>
<line x1="414.96" y1="36.30" x2="414.96" y2="39.30" stroke="#000" stroke-width="1.1"/>
<line x1="422.14" y1="181.30" x2="422.14" y2="175.80" stroke="#000" stroke-width="1.1"/>
<line x1="422.14" y1="36.30" x2="422.14" y2="41.80" stroke="#000" stroke-width="1.1"/>
<line x1="429.33" y1="181.30" x2="429.33" y2="178.30" stroke="#000" stroke-width="1.1"/>
<line x1="429.33" y1="36.30" x2="429.33" y2="39.30" stroke="#000" stroke-width="1.1"/>
<line x1="436.51" y1="181.30" x2="436.51" y2="178.30" stroke="#000" stroke-width="1.1"/>
<line x1="436.51" y1="36.30" x2="436.51" y2="39.30" stroke="#000" stroke-width="1.1"/>
<line x1="443.70" y1="181.30" x2="443.70" y2="178.30" stroke="#000" stroke-width="1.1"/>
<line x1="443.70" y1="36.30" x2="443.70" y2="39.30" stroke="#000" stroke-width="1.1"/>
<line x1="450.89" y1="181.30" x2="450.89" y2="175.80" stroke="#000" stroke-width="1.1"/>
<line x1="450.89" y1="36.30" x2="450.89" y2="41.80" stroke="#000" stroke-width="1.1"/>
<line x1="458.07" y1="181.30" x2="458.07" y2="178.30" stroke="#000" stroke-width="1.1"/>
<line x1="458.07" y1="36.30" x2="458.07" y2="39.30" stroke="#000" stroke-width="1.1"/>
<line x1="465.26" y1="181.30" x2="465.26" y2="178.30" stroke="#000" stroke-width="1.1"/>
<line x1="465.26" y1="36.30" x2="465.26" y2="39.30" stroke="#000" stroke-width="1.1"/>
<line x1="472.44" y1="181.30" x2="472.44" y2="178.30" stroke="#000" stroke-width="1.1"/>
<line x1="472.44" y1="36.30" x2="472.44" y2="39.30" stroke="#000" stroke-width="1.1"/>
<line x1="479.63" y1="181.30" x2="479.63" y2="175.80" stroke="#000" stroke-width="1.1"/>
<line x1="479.63" y1="36.30" x2="479.63" y2="41.80" stroke="#000" stroke-width="1.1"/>
<line x1="486.81" y1="181.30" x2="486.81" y2="178.30" stroke="#000" stroke-width="1.1"/>
<line x1="486.81" y1="36.30" x2="486.81" y2="39.30" stroke="#000" stroke-width="1.1"/>
<line x1="292.80" y1="44.83" x2="298.30" y2="44.83" stroke="#000" stroke-width="1.1"/>
<line x1="494.00" y1="44.83" x2="488.50" y2="44.83" stroke="#000" stroke-width="1.1"/>
<line x1="292.80" y1="53.36" x2="295.80" y2="53.36" stroke="#000" stroke-width="1.1"/>
<line x1="494.00" y1="53.36" x2="491.00" y2="53.36" stroke="#000" stroke-width="1.1"/>
<line x1="292.80" y1="61.89" x2="298.30" y2="61.89" stroke="#000" stroke-width="1.1"/>
<line x1="494.00" y1="61.89" x2="488.50" y2="61.89" stroke="#000" stroke-width="1.1"/>
<line x1="292.80" y1="70.42" x2="295.80" y2="70.42" stroke="#000" stroke-width="1.1"/>
<line x1="494.00" y1="70.42" x2="491.00" y2="70.42" stroke="#000" stroke-width="1.1"/>
<line x1="292.80" y1="78.95" x2="298.30" y2="78.95" stroke="#000" stroke-width="1.1"/>
<line x1="494.00" y1="78.95" x2="488.50" y2="78.95" stroke="#000" stroke-width="1.1"/>
<line x1="292.80" y1="87.48" x2="295.80" y2="87.48" stroke="#000" stroke-width="1.1"/>
<line x1="494.00" y1="87.48" x2="491.00" y2="87.48" stroke="#000" stroke-width="1.1"/>
<line x1="292.80" y1="96.01" x2="298.30" y2="96.01" stroke="#000" stroke-width="1.1"/>
<line x1="494.00" y1="96.01" x2="488.50" y2="96.01" stroke="#000" stroke-width="1.1"/>
<line x1="292.80" y1="104.54" x2="295.80" y2="104.54" stroke="#000" stroke-width="1.1"/>
<line x1="494.00" y1="104.54" x2="491.00" y2="104.54" stroke="#000" stroke-width="1.1"/>
<line x1="292.80" y1="113.06" x2="298.30" y2="113.06" stroke="#000" stroke-width="1.1"/>
<line x1="494.00" y1="113.06" x2="488.50" y2="113.06" stroke="#000" stroke-width="1.1"/>
<line x1="292.80" y1="121.59" x2="295.80" y2="121.59" stroke="#000" stroke-width="1.1"/>
<line x1="494.00" y1="121.59" x2="491.00" y2="121.59" stroke="#000" stroke-width="1.1"/>
<line x1="292.80" y1="130.12" x2="298.30" y2="130.12" stroke="#000" stroke-width="1.1"/>
<line x1="494.00" y1="130.12" x2="488.50" y2="130.12" stroke="#000" stroke-width="1.1"/>
<line x1="292.80" y1="138.65" x2="295.80" y2="138.65" stroke="#000" stroke-width="1.1"/>
<line x1="494.00" y1="138.65" x2="491.00" y2="138.65" stroke="#000" stroke-width="1.1"/>
<line x1="292.80" y1="147.18" x2="298.30" y2="147.18" stroke="#000" stroke-width="1.1"/>
<line x1="494.00" y1="147.18" x2="488.50" y2="147.18" stroke="#000" stroke-width="1.1"/>
<line x1="292.80" y1="155.71" x2="295.80" y2="155.71" stroke="#000" stroke-width="1.1"/>
<line x1="494.00" y1="155.71" x2="491.00" y2="155.71" stroke="#000" stroke-width="1.1"/>
<line x1="292.80" y1="164.24" x2="298.30" y2="164.24" stroke="#000" stroke-width="1.1"/>
<line x1="494.00" y1="164.24" x2="488.50" y2="164.24" stroke="#000" stroke-width="1.1"/>
<line x1="292.80" y1="172.77" x2="295.80" y2="172.77" stroke="#000" stroke-width="1.1"/>
<line x1="494.00" y1="172.77" x2="491.00" y2="172.77" stroke="#000" stroke-width="1.1"/>
<circle cx="307.17" cy="45.00" r="3.1" fill="none" stroke="#36a869" stroke-width="1.85"/>
<circle cx="314.36" cy="48.10" r="3.1" fill="none" stroke="#36a869" stroke-width="1.85"/>
<circle cx="321.54" cy="52.30" r="3.1" fill="none" stroke="#36a869" stroke-width="1.85"/>
<circle cx="328.73" cy="56.90" r="3.1" fill="none" stroke="#36a869" stroke-width="1.85"/>
<circle cx="335.91" cy="62.60" r="3.1" fill="none" stroke="#36a869" stroke-width="1.85"/>
<circle cx="343.10" cy="67.80" r="3.1" fill="none" stroke="#36a869" stroke-width="1.85"/>
<circle cx="350.29" cy="73.00" r="3.1" fill="none" stroke="#36a869" stroke-width="1.85"/>
<circle cx="357.47" cy="78.50" r="3.1" fill="none" stroke="#36a869" stroke-width="1.85"/>
<circle cx="364.66" cy="83.70" r="3.1" fill="none" stroke="#36a869" stroke-width="1.85"/>
<circle cx="371.84" cy="89.30" r="3.1" fill="none" stroke="#36a869" stroke-width="1.85"/>
<circle cx="379.03" cy="94.20" r="3.1" fill="none" stroke="#36a869" stroke-width="1.85"/>
<circle cx="386.21" cy="99.80" r="3.1" fill="none" stroke="#36a869" stroke-width="1.85"/>
<circle cx="393.40" cy="106.20" r="3.1" fill="none" stroke="#36a869" stroke-width="1.85"/>
<circle cx="400.59" cy="111.70" r="3.1" fill="none" stroke="#36a869" stroke-width="1.85"/>
<circle cx="407.77" cy="117.30" r="3.1" fill="none" stroke="#36a869" stroke-width="1.85"/>
<circle cx="414.96" cy="123.00" r="3.1" fill="none" stroke="#36a869" stroke-width="1.85"/>
<circle cx="422.14" cy="128.60" r="3.1" fill="none" stroke="#36a869" stroke-width="1.85"/>
<circle cx="429.33" cy="134.40" r="3.1" fill="none" stroke="#36a869" stroke-width="1.85"/>
<circle cx="436.51" cy="140.10" r="3.1" fill="none" stroke="#36a869" stroke-width="1.85"/>
<circle cx="443.70" cy="145.70" r="3.1" fill="none" stroke="#36a869" stroke-width="1.85"/>
<circle cx="450.89" cy="152.20" r="3.1" fill="none" stroke="#36a869" stroke-width="1.85"/>
<circle cx="458.07" cy="158.10" r="3.1" fill="none" stroke="#36a869" stroke-width="1.85"/>
<circle cx="465.26" cy="164.10" r="3.1" fill="none" stroke="#36a869" stroke-width="1.85"/>
<circle cx="472.44" cy="169.80" r="3.1" fill="none" stroke="#36a869" stroke-width="1.85"/>
<circle cx="479.63" cy="175.40" r="3.1" fill="none" stroke="#36a869" stroke-width="1.85"/>
<line x1="307.17" y1="44.83" x2="479.63" y2="171.54" stroke="#000" stroke-width="1.6"/>
<rect x="292.80" y="36.30" width="201.20" height="145.00" fill="none" stroke="#000" stroke-width="1.15"/>
<line x1="299.99" y1="331.50" x2="299.99" y2="328.50" stroke="#000" stroke-width="1.1"/>
<line x1="299.99" y1="187.00" x2="299.99" y2="190.00" stroke="#000" stroke-width="1.1"/>
<line x1="307.17" y1="331.50" x2="307.17" y2="326.00" stroke="#000" stroke-width="1.1"/>
<line x1="307.17" y1="187.00" x2="307.17" y2="192.50" stroke="#000" stroke-width="1.1"/>
<line x1="314.36" y1="331.50" x2="314.36" y2="328.50" stroke="#000" stroke-width="1.1"/>
<line x1="314.36" y1="187.00" x2="314.36" y2="190.00" stroke="#000" stroke-width="1.1"/>
<line x1="321.54" y1="331.50" x2="321.54" y2="328.50" stroke="#000" stroke-width="1.1"/>
<line x1="321.54" y1="187.00" x2="321.54" y2="190.00" stroke="#000" stroke-width="1.1"/>
<line x1="328.73" y1="331.50" x2="328.73" y2="328.50" stroke="#000" stroke-width="1.1"/>
<line x1="328.73" y1="187.00" x2="328.73" y2="190.00" stroke="#000" stroke-width="1.1"/>
<line x1="335.91" y1="331.50" x2="335.91" y2="326.00" stroke="#000" stroke-width="1.1"/>
<line x1="335.91" y1="187.00" x2="335.91" y2="192.50" stroke="#000" stroke-width="1.1"/>
<line x1="343.10" y1="331.50" x2="343.10" y2="328.50" stroke="#000" stroke-width="1.1"/>
<line x1="343.10" y1="187.00" x2="343.10" y2="190.00" stroke="#000" stroke-width="1.1"/>
<line x1="350.29" y1="331.50" x2="350.29" y2="328.50" stroke="#000" stroke-width="1.1"/>
<line x1="350.29" y1="187.00" x2="350.29" y2="190.00" stroke="#000" stroke-width="1.1"/>
<line x1="357.47" y1="331.50" x2="357.47" y2="328.50" stroke="#000" stroke-width="1.1"/>
<line x1="357.47" y1="187.00" x2="357.47" y2="190.00" stroke="#000" stroke-width="1.1"/>
<line x1="364.66" y1="331.50" x2="364.66" y2="326.00" stroke="#000" stroke-width="1.1"/>
<line x1="364.66" y1="187.00" x2="364.66" y2="192.50" stroke="#000" stroke-width="1.1"/>
<line x1="371.84" y1="331.50" x2="371.84" y2="328.50" stroke="#000" stroke-width="1.1"/>
<line x1="371.84" y1="187.00" x2="371.84" y2="190.00" stroke="#000" stroke-width="1.1"/>
<line x1="379.03" y1="331.50" x2="379.03" y2="328.50" stroke="#000" stroke-width="1.1"/>
<line x1="379.03" y1="187.00" x2="379.03" y2="190.00" stroke="#000" stroke-width="1.1"/>
<line x1="386.21" y1="331.50" x2="386.21" y2="328.50" stroke="#000" stroke-width="1.1"/>
<line x1="386.21" y1="187.00" x2="386.21" y2="190.00" stroke="#000" stroke-width="1.1"/>
<line x1="393.40" y1="331.50" x2="393.40" y2="326.00" stroke="#000" stroke-width="1.1"/>
<line x1="393.40" y1="187.00" x2="393.40" y2="192.50" stroke="#000" stroke-width="1.1"/>
<line x1="400.59" y1="331.50" x2="400.59" y2="328.50" stroke="#000" stroke-width="1.1"/>
<line x1="400.59" y1="187.00" x2="400.59" y2="190.00" stroke="#000" stroke-width="1.1"/>
<line x1="407.77" y1="331.50" x2="407.77" y2="328.50" stroke="#000" stroke-width="1.1"/>
<line x1="407.77" y1="187.00" x2="407.77" y2="190.00" stroke="#000" stroke-width="1.1"/>
<line x1="414.96" y1="331.50" x2="414.96" y2="328.50" stroke="#000" stroke-width="1.1"/>
<line x1="414.96" y1="187.00" x2="414.96" y2="190.00" stroke="#000" stroke-width="1.1"/>
<line x1="422.14" y1="331.50" x2="422.14" y2="326.00" stroke="#000" stroke-width="1.1"/>
<line x1="422.14" y1="187.00" x2="422.14" y2="192.50" stroke="#000" stroke-width="1.1"/>
<line x1="429.33" y1="331.50" x2="429.33" y2="328.50" stroke="#000" stroke-width="1.1"/>
<line x1="429.33" y1="187.00" x2="429.33" y2="190.00" stroke="#000" stroke-width="1.1"/>
<line x1="436.51" y1="331.50" x2="436.51" y2="328.50" stroke="#000" stroke-width="1.1"/>
<line x1="436.51" y1="187.00" x2="436.51" y2="190.00" stroke="#000" stroke-width="1.1"/>
<line x1="443.70" y1="331.50" x2="443.70" y2="328.50" stroke="#000" stroke-width="1.1"/>
<line x1="443.70" y1="187.00" x2="443.70" y2="190.00" stroke="#000" stroke-width="1.1"/>
<line x1="450.89" y1="331.50" x2="450.89" y2="326.00" stroke="#000" stroke-width="1.1"/>
<line x1="450.89" y1="187.00" x2="450.89" y2="192.50" stroke="#000" stroke-width="1.1"/>
<line x1="458.07" y1="331.50" x2="458.07" y2="328.50" stroke="#000" stroke-width="1.1"/>
<line x1="458.07" y1="187.00" x2="458.07" y2="190.00" stroke="#000" stroke-width="1.1"/>
<line x1="465.26" y1="331.50" x2="465.26" y2="328.50" stroke="#000" stroke-width="1.1"/>
<line x1="465.26" y1="187.00" x2="465.26" y2="190.00" stroke="#000" stroke-width="1.1"/>
<line x1="472.44" y1="331.50" x2="472.44" y2="328.50" stroke="#000" stroke-width="1.1"/>
<line x1="472.44" y1="187.00" x2="472.44" y2="190.00" stroke="#000" stroke-width="1.1"/>
<line x1="479.63" y1="331.50" x2="479.63" y2="326.00" stroke="#000" stroke-width="1.1"/>
<line x1="479.63" y1="187.00" x2="479.63" y2="192.50" stroke="#000" stroke-width="1.1"/>
<line x1="486.81" y1="331.50" x2="486.81" y2="328.50" stroke="#000" stroke-width="1.1"/>
<line x1="486.81" y1="187.00" x2="486.81" y2="190.00" stroke="#000" stroke-width="1.1"/>
<line x1="292.80" y1="313.44" x2="295.80" y2="313.44" stroke="#000" stroke-width="1.1"/>
<line x1="494.00" y1="313.44" x2="491.00" y2="313.44" stroke="#000" stroke-width="1.1"/>
<line x1="292.80" y1="295.38" x2="295.80" y2="295.38" stroke="#000" stroke-width="1.1"/>
<line x1="494.00" y1="295.38" x2="491.00" y2="295.38" stroke="#000" stroke-width="1.1"/>
<line x1="292.80" y1="277.31" x2="295.80" y2="277.31" stroke="#000" stroke-width="1.1"/>
<line x1="494.00" y1="277.31" x2="491.00" y2="277.31" stroke="#000" stroke-width="1.1"/>
<line x1="292.80" y1="259.25" x2="298.30" y2="259.25" stroke="#000" stroke-width="1.1"/>
<line x1="494.00" y1="259.25" x2="488.50" y2="259.25" stroke="#000" stroke-width="1.1"/>
<line x1="292.80" y1="241.19" x2="295.80" y2="241.19" stroke="#000" stroke-width="1.1"/>
<line x1="494.00" y1="241.19" x2="491.00" y2="241.19" stroke="#000" stroke-width="1.1"/>
<line x1="292.80" y1="223.12" x2="295.80" y2="223.12" stroke="#000" stroke-width="1.1"/>
<line x1="494.00" y1="223.12" x2="491.00" y2="223.12" stroke="#000" stroke-width="1.1"/>
<line x1="292.80" y1="205.06" x2="295.80" y2="205.06" stroke="#000" stroke-width="1.1"/>
<line x1="494.00" y1="205.06" x2="491.00" y2="205.06" stroke="#000" stroke-width="1.1"/>
<circle cx="307.17" cy="318.13" r="3.1" fill="none" stroke="#36a869" stroke-width="1.85"/>
<circle cx="314.36" cy="313.80" r="3.1" fill="none" stroke="#36a869" stroke-width="1.85"/>
<circle cx="321.54" cy="312.35" r="3.1" fill="none" stroke="#36a869" stroke-width="1.85"/>
<circle cx="328.73" cy="311.27" r="3.1" fill="none" stroke="#36a869" stroke-width="1.85"/>
<circle cx="335.91" cy="305.49" r="3.1" fill="none" stroke="#36a869" stroke-width="1.85"/>
<circle cx="343.10" cy="302.24" r="3.1" fill="none" stroke="#36a869" stroke-width="1.85"/>
<circle cx="350.29" cy="296.10" r="3.1" fill="none" stroke="#36a869" stroke-width="1.85"/>
<circle cx="357.47" cy="294.29" r="3.1" fill="none" stroke="#36a869" stroke-width="1.85"/>
<circle cx="364.66" cy="289.96" r="3.1" fill="none" stroke="#36a869" stroke-width="1.85"/>
<circle cx="371.84" cy="283.09" r="3.1" fill="none" stroke="#36a869" stroke-width="1.85"/>
<circle cx="379.03" cy="279.84" r="3.1" fill="none" stroke="#36a869" stroke-width="1.85"/>
<circle cx="386.21" cy="276.95" r="3.1" fill="none" stroke="#36a869" stroke-width="1.85"/>
<circle cx="393.40" cy="271.17" r="3.1" fill="none" stroke="#36a869" stroke-width="1.85"/>
<circle cx="400.59" cy="266.84" r="3.1" fill="none" stroke="#36a869" stroke-width="1.85"/>
<circle cx="407.77" cy="263.22" r="3.1" fill="none" stroke="#36a869" stroke-width="1.85"/>
<circle cx="414.96" cy="259.97" r="3.1" fill="none" stroke="#36a869" stroke-width="1.85"/>
<circle cx="422.14" cy="257.44" r="3.1" fill="none" stroke="#36a869" stroke-width="1.85"/>
<circle cx="429.33" cy="249.13" r="3.1" fill="none" stroke="#36a869" stroke-width="1.85"/>
<circle cx="436.51" cy="248.77" r="3.1" fill="none" stroke="#36a869" stroke-width="1.85"/>
<circle cx="443.70" cy="246.25" r="3.1" fill="none" stroke="#36a869" stroke-width="1.85"/>
<circle cx="450.89" cy="239.02" r="3.1" fill="none" stroke="#36a869" stroke-width="1.85"/>
<circle cx="458.07" cy="238.30" r="3.1" fill="none" stroke="#36a869" stroke-width="1.85"/>
<circle cx="465.26" cy="236.49" r="3.1" fill="none" stroke="#36a869" stroke-width="1.85"/>
<circle cx="472.44" cy="232.16" r="3.1" fill="none" stroke="#36a869" stroke-width="1.85"/>
<circle cx="479.63" cy="226.38" r="3.1" fill="none" stroke="#36a869" stroke-width="1.85"/>
<circle cx="329.8" cy="212.75" r="3.1" fill="none" stroke="#36a869" stroke-width="1.85"/>
<rect x="292.80" y="187.00" width="201.20" height="144.50" fill="none" stroke="#000" stroke-width="1.15"/>
<text id="title" x="204.00" y="23.10" font-size="17.2" text-anchor="start" fill="#000" font-family="'Liberation Serif'" ><tspan x="204.1">Mo</tspan><tspan x="228.2" font-size="12.4" dy="5">0.23</tspan><tspan x="251.1" dy="-5">W</tspan><tspan x="267.9" font-size="12.4" dy="5">0.77</tspan><tspan x="289.3" dy="-5">Se</tspan><tspan x="307.3" font-size="12.4" dy="5">2</tspan><tspan x="317.7" dy="-5">sample</tspan><tspan x="371.3">3</tspan></text>
<text id="la" x="8.00" y="51.00" font-size="17.5" text-anchor="start" fill="#000" font-family="'Liberation Serif'" >(a)</text>
<text id="lb" x="242.00" y="50.40" font-size="17.5" text-anchor="start" fill="#000" font-family="'Liberation Serif'" >(b)</text>
<text id="lc" x="241.80" y="207.50" font-size="17.5" text-anchor="start" fill="#000" font-family="'Liberation Serif'" >(c)</text>
<text id="xe" transform="translate(137.0,367.7) scale(1.025,1)" font-size="17.6" text-anchor="middle" font-family="'Liberation Serif'">Energy (eV)</text>
<text id="xm" transform="translate(393.35,367.8) scale(1.025,1)" font-size="17.6" text-anchor="middle" font-family="'Liberation Serif'">Magnetic field (T)</text>
<text id="e160" x="65.33" y="347.70" font-size="14.6" text-anchor="middle" fill="#000" font-family="'Liberation Serif'" >1.60</text>
<text id="e164" x="122.79" y="347.70" font-size="14.6" text-anchor="middle" fill="#000" font-family="'Liberation Serif'" >1.64</text>
<text id="e168" x="180.24" y="347.70" font-size="14.6" text-anchor="middle" fill="#000" font-family="'Liberation Serif'" >1.68</text>
<text id="e172" x="237.70" y="347.70" font-size="14.6" text-anchor="middle" fill="#000" font-family="'Liberation Serif'" >1.72</text>
<text id="m0" x="306.97" y="349.30" font-size="14.6" text-anchor="middle" fill="#000" font-family="'Liberation Serif'" >0</text>
<text id="m2" x="335.71" y="349.30" font-size="14.6" text-anchor="middle" fill="#000" font-family="'Liberation Serif'" >2</text>
<text id="m4" x="364.46" y="349.30" font-size="14.6" text-anchor="middle" fill="#000" font-family="'Liberation Serif'" >4</text>
<text id="m6" x="393.20" y="349.30" font-size="14.6" text-anchor="middle" fill="#000" font-family="'Liberation Serif'" >6</text>
<text id="m8" x="421.94" y="349.30" font-size="14.6" text-anchor="middle" fill="#000" font-family="'Liberation Serif'" >8</text>
<text id="m10" x="450.69" y="349.30" font-size="14.6" text-anchor="middle" fill="#000" font-family="'Liberation Serif'" >10</text>
<text id="m12" x="479.43" y="349.30" font-size="14.6" text-anchor="middle" fill="#000" font-family="'Liberation Serif'" >12</text>
<text id="b0" x="286.40" y="48.63" font-size="14.6" text-anchor="end" fill="#000" font-family="'Liberation Serif'" >0</text>
<text id="b1" x="286.40" y="65.69" font-size="14.6" text-anchor="end" fill="#000" font-family="'Liberation Serif'" >-1</text>
<text id="b2" x="286.40" y="82.75" font-size="14.6" text-anchor="end" fill="#000" font-family="'Liberation Serif'" >-2</text>
<text id="b3" x="286.40" y="99.81" font-size="14.6" text-anchor="end" fill="#000" font-family="'Liberation Serif'" >-3</text>
<text id="b4" x="286.40" y="116.86" font-size="14.6" text-anchor="end" fill="#000" font-family="'Liberation Serif'" >-4</text>
<text id="b5" x="286.40" y="133.92" font-size="14.6" text-anchor="end" fill="#000" font-family="'Liberation Serif'" >-5</text>
<text id="b6" x="286.40" y="150.98" font-size="14.6" text-anchor="end" fill="#000" font-family="'Liberation Serif'" >-6</text>
<text id="b7" x="286.40" y="168.04" font-size="14.6" text-anchor="end" fill="#000" font-family="'Liberation Serif'" >-7</text>
<text id="c0" x="286.70" y="336.20" font-size="15.3" text-anchor="end" fill="#000" font-family="'Liberation Serif'" >0.0</text>
<text id="c2" x="286.70" y="263.95" font-size="15.3" text-anchor="end" fill="#000" font-family="'Liberation Serif'" >0.2</text>
<text id="c4" x="286.70" y="191.70" font-size="15.3" text-anchor="end" fill="#000" font-family="'Liberation Serif'" >0.4</text>
<text id="t12" x="234.90" y="121.10" font-size="14.6" text-anchor="end" fill="#808080" font-family="'Liberation Serif'" word-spacing="1">12 T</text>
<text id="t8" x="234.70" y="188.30" font-size="14.6" text-anchor="end" fill="#808080" font-family="'Liberation Serif'" word-spacing="1">8 T</text>
<text id="t4" x="230.50" y="256.00" font-size="14.6" text-anchor="end" fill="#808080" font-family="'Liberation Serif'" word-spacing="1">4 T</text>
<text id="t0" x="235.20" y="324.60" font-size="14.6" text-anchor="end" fill="#808080" font-family="'Liberation Serif'" word-spacing="1">0 T</text>
<text id="X" x="146.90" y="275.70" font-size="17" text-anchor="middle" fill="#000" font-family="'Liberation Serif'" >X</text>
<text id="X2" x="352.00" y="218.60" font-size="15.6" text-anchor="start" fill="#000" font-family="'Liberation Serif'" >X</text>
<text id="gx" transform="translate(375.7,64.1) scale(1.0,1)" font-size="18" fill="#36a869" font-family="'Liberation Serif'">g<tspan font-size="12.4" dy="4">x</tspan><tspan dy="-4">=-10.7 ± 0.2</tspan></text>
<text id="s1" transform="translate(86.9,59.8) scale(1.1,1)" font-size="13.5" fill="#000" font-family="'Liberation Sans'">σ<tspan font-size="11.5" dy="-4.6" dx="-1.3">−</tspan></text>
<text id="s2" transform="translate(86.9,81.6) scale(1.1,1)" font-size="13.5" fill="#000" font-family="'Liberation Sans'">σ<tspan font-size="11.5" dy="-5.3" dx="-1.3">+</tspan></text>
<text id="ypl" transform="translate(23.4,200.8) rotate(-90) scale(1.024,1)" font-size="17.2" text-anchor="middle" font-family="'Liberation Serif'">PL intensity (counts)</text>
<text id="yde0" transform="translate(260.3,145.6) rotate(-90) scale(1.11,1)" font-size="17.2" text-anchor="start" fill="#000" font-family="'Liberation Serif'">Δ</text>
<text id="yde1" transform="translate(260.3,133.8) rotate(-90)" font-size="17.2" font-style="italic" text-anchor="start" fill="#000" font-family="'Liberation Serif'">E</text>
<text id="yde2" transform="translate(260.3,72.6) rotate(-90) scale(1.045,1)" font-size="17.2" text-anchor="end" fill="#000" font-family="'Liberation Serif'">(meV)</text>
<text id="ypc" transform="translate(258.30,259.40) rotate(-90)" font-size="17.5" text-anchor="middle" fill="#000" font-family="'Liberation Serif'" ><tspan font-style="italic">P</tspan><tspan font-style="italic" font-size="12.2" dy="6">circ.</tspan></text>
</svg>
</div>
</body></html>
